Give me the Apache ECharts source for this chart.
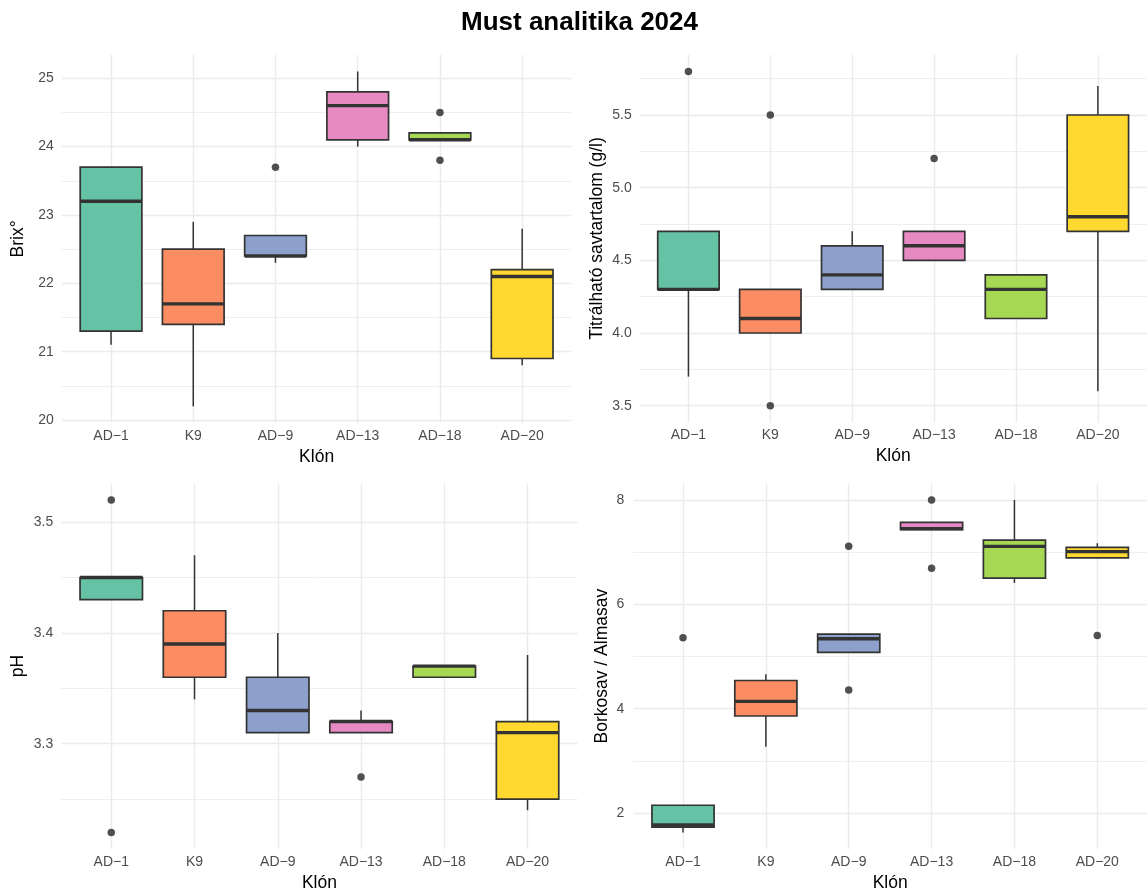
<!DOCTYPE html>
<html><head><meta charset="utf-8">
<script src="https://cdn.jsdelivr.net/npm/echarts@6/dist/echarts.min.js"></script>
<style>html,body{margin:0;padding:0;background:#fff}#c{width:1147px;height:893px}</style>
</head><body><div id="c"></div><script>
// ---------- DATA ----------
const categories = ['AD−1', 'K9', 'AD−9', 'AD−13', 'AD−18', 'AD−20'];
const palette = ['#66C2A5', '#FC8D62', '#8DA0CB', '#E78AC3', '#A6D854', '#FFD92F'];

// each box: [lower whisker, Q1, median, Q3, upper whisker]
const brixBoxes = [
  [21.1, 21.3, 23.2, 23.7, 23.7],
  [20.2, 21.4, 21.7, 22.5, 22.9],
  [22.3, 22.4, 22.4, 22.7, 22.7],
  [24.0, 24.1, 24.6, 24.8, 25.1],
  [24.1, 24.1, 24.1, 24.2, 24.2],
  [20.8, 20.9, 22.1, 22.2, 22.8]
];
const brixOutliers = [['AD−9', 23.7], ['AD−18', 24.5], ['AD−18', 23.8]];
const brixTicks = [20, 21, 22, 23, 24, 25];
const brixMinor = [20.5, 21.5, 22.5, 23.5, 24.5];

const acidBoxes = [
  [3.7, 4.3, 4.3, 4.7, 4.7],
  [4.0, 4.0, 4.1, 4.3, 4.3],
  [4.3, 4.3, 4.4, 4.6, 4.7],
  [4.5, 4.5, 4.6, 4.7, 4.7],
  [4.1, 4.1, 4.3, 4.4, 4.4],
  [3.6, 4.7, 4.8, 5.5, 5.7]
];
const acidOutliers = [['AD−1', 5.8], ['K9', 5.5], ['K9', 3.5], ['AD−13', 5.2]];
const acidTicks = [3.5, 4.0, 4.5, 5.0, 5.5];
const acidMinor = [3.75, 4.25, 4.75, 5.25, 5.75];

const phBoxes = [
  [3.43, 3.43, 3.45, 3.45, 3.45],
  [3.34, 3.36, 3.39, 3.42, 3.47],
  [3.31, 3.31, 3.33, 3.36, 3.40],
  [3.31, 3.31, 3.32, 3.32, 3.33],
  [3.36, 3.36, 3.37, 3.37, 3.37],
  [3.24, 3.25, 3.31, 3.32, 3.38]
];
const phOutliers = [['AD−1', 3.52], ['AD−1', 3.22], ['AD−13', 3.27]];
const phTicks = [3.3, 3.4, 3.5];
const phMinor = [3.25, 3.35, 3.45];

const ratioBoxes = [
  [1.63, 1.73, 1.77, 2.15, 2.15],
  [3.27, 3.86, 4.14, 4.54, 4.66],
  [5.08, 5.08, 5.34, 5.43, 5.43],
  [7.43, 7.43, 7.45, 7.57, 7.57],
  [6.41, 6.50, 7.11, 7.23, 8.00],
  [6.89, 6.89, 7.01, 7.09, 7.17]
];
const ratioOutliers = [['AD−1', 5.36], ['AD−9', 7.11], ['AD−9', 4.36], ['AD−13', 8.0], ['AD−13', 6.69], ['AD−20', 5.40]];
const ratioTicks = [2, 4, 6, 8];
const ratioMinor = [3, 5, 7];

// ---------- PANELS ----------
const panels = [
  { boxes: brixBoxes, outliers: brixOutliers, ticks: brixTicks, minor: brixMinor, name: 'Brix°', dec: 0,
    grid: { left: 61.7, top: 54.7, width: 509.8, height: 368.4 }, nameGap: 35, labelMargin: 8 },
  { boxes: acidBoxes, outliers: acidOutliers, ticks: acidTicks, minor: acidMinor, name: 'Titrálható savtartalom (g/l)', dec: 1,
    grid: { left: 639.3, top: 54.7, width: 510.2, height: 367.7 }, nameGap: 33.5, labelMargin: 7.6 },
  { boxes: phBoxes, outliers: phOutliers, ticks: phTicks, minor: phMinor, name: 'pH', dec: 1,
    grid: { left: 61.3, top: 483.3, width: 516.2, height: 367.7 }, nameGap: 34.5, labelMargin: 8 },
  { boxes: ratioBoxes, outliers: ratioOutliers, ticks: ratioTicks, minor: ratioMinor, name: 'Borkosav / Almasav', dec: 0,
    grid: { left: 633.3, top: 483.3, width: 516.4, height: 366.7 }, nameGap: 22, labelMargin: 9 }
];

const BOX_W = 0.75;
const FONT = '"Liberation Sans", Arial, Helvetica, sans-serif';
const GRID_C = '#EBEBEB';
const catIdx = categories.map((c, i) => i);

function dataRange(p) {
  let lo = Infinity, hi = -Infinity;
  p.boxes.forEach(b => { lo = Math.min(lo, b[0]); hi = Math.max(hi, b[4]); });
  p.outliers.forEach(o => { lo = Math.min(lo, o[1]); hi = Math.max(hi, o[1]); });
  const pad = (hi - lo) * 0.05;
  return [lo - pad, hi + pad];
}

function renderBox(params, api) {
  const x = api.value(0);
  const lo = api.value(1), q1 = api.value(2), med = api.value(3), q3 = api.value(4), hi = api.value(5);
  const w = api.size([BOX_W, 0], [x, med])[0];
  const pLo = api.coord([x, lo]), pQ1 = api.coord([x, q1]), pMed = api.coord([x, med]);
  const pQ3 = api.coord([x, q3]), pHi = api.coord([x, hi]);
  const cx = pMed[0];
  const stroke = '#333333';
  const children = [];
  if (pHi[1] < pQ3[1] - 0.5) children.push({ type: 'line', shape: { x1: cx, y1: pHi[1], x2: cx, y2: pQ3[1] }, style: { stroke, lineWidth: 1.5 } });
  if (pLo[1] > pQ1[1] + 0.5) children.push({ type: 'line', shape: { x1: cx, y1: pQ1[1], x2: cx, y2: pLo[1] }, style: { stroke, lineWidth: 1.5 } });
  children.push({ type: 'rect', shape: { x: cx - w / 2, y: pQ3[1], width: w, height: pQ1[1] - pQ3[1] },
    style: { fill: palette[Math.round(x)], stroke, lineWidth: 1.7 } });
  children.push({ type: 'line', shape: { x1: cx - w / 2, y1: pMed[1], x2: cx + w / 2, y2: pMed[1] }, style: { stroke, lineWidth: 3.4 } });
  return { type: 'group', children };
}

const grid = [], xAxis = [], yAxis = [], series = [];
panels.forEach((p, i) => {
  const [mn, mx] = dataRange(p);
  grid.push(Object.assign({ containLabel: false }, p.grid));
  xAxis.push({
    type: 'value', gridIndex: i, min: -0.6, max: categories.length - 0.4,
    name: 'Klón', nameLocation: 'middle', nameGap: 25,
    nameTextStyle: { fontFamily: FONT, fontSize: 17.5, color: '#000' },
    axisLine: { show: false },
    axisTick: { show: false, customValues: catIdx },
    axisLabel: { customValues: catIdx, formatter: v => categories[Math.round(v)], margin: 6,
      fontFamily: FONT, fontSize: 14, color: '#4D4D4D' },
    splitLine: { show: true, lineStyle: { color: GRID_C, width: 1.4 } }
  });
  yAxis.push({
    type: 'value', gridIndex: i, min: mn, max: mx,
    name: p.name, nameLocation: 'middle', nameGap: p.nameGap, nameRotate: 90,
    nameTextStyle: { fontFamily: FONT, fontSize: 17.5, color: '#000' },
    axisLine: { show: false },
    axisTick: { show: false, customValues: p.ticks },
    axisLabel: { customValues: p.ticks, formatter: v => v.toFixed(p.dec), margin: p.labelMargin,
      fontFamily: FONT, fontSize: 14, color: '#4D4D4D' },
    splitLine: { show: true, lineStyle: { color: GRID_C, width: 1.4 } }
  });
  yAxis.push({
    type: 'value', gridIndex: i, min: mn, max: mx, position: 'left',
    axisLine: { show: false },
    axisTick: { show: false, customValues: p.minor },
    axisLabel: { show: false },
    splitLine: { show: true, lineStyle: { color: GRID_C, width: 0.8 } }
  });
  series.push({
    type: 'custom', xAxisIndex: i, yAxisIndex: 2 * i,
    renderItem: renderBox,
    encode: { x: 0, y: [1, 2, 3, 4, 5] },
    data: p.boxes.map((b, k) => [k].concat(b)),
    z: 3
  });
  series.push({
    type: 'scatter', xAxisIndex: i, yAxisIndex: 2 * i,
    symbol: 'circle', symbolSize: 7.5,
    itemStyle: { color: '#262626' },
    data: p.outliers.map(o => [categories.indexOf(o[0]), o[1]]),
    z: 4
  });
});

const chart = echarts.init(document.getElementById('c'), null, { renderer: 'canvas' });
chart.setOption({
  animation: false,
  backgroundColor: '#ffffff',
  title: {
    text: 'Must analitika 2024', left: 461, top: 10, padding: 0,
    textStyle: { fontFamily: FONT, fontSize: 26, fontWeight: 'bold', color: '#000' }
  },
  grid, xAxis, yAxis, series
});
</script></body></html>
